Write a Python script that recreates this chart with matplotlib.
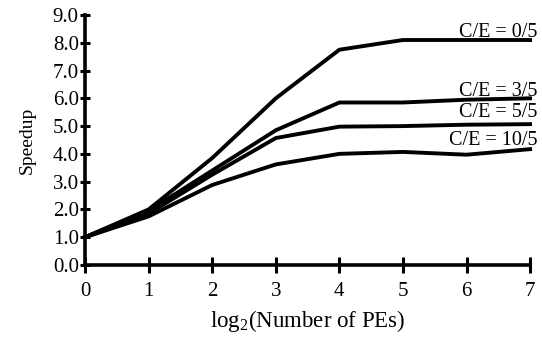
import matplotlib.pyplot as plt
from matplotlib.transforms import offset_copy

plt.rcParams['font.family'] = ['Liberation Serif', 'DejaVu Serif']

# log2 of number of PEs
x = [0, 1, 2, 3, 4, 5, 6, 7]

# speedup for each C/E ratio
ce_0 = [1.0, 2.0, 3.85, 6.0, 7.75, 8.1, 8.1, 8.1]
ce_3 = [1.0, 1.95, 3.4, 4.85, 5.85, 5.85, 5.95, 6.0]
ce_5 = [1.0, 1.85, 3.25, 4.57, 4.98, 5.0, 5.05, 5.07]
ce_10 = [1.0, 1.75, 2.88, 3.62, 4.0, 4.07, 3.97, 4.17]

labels = ['C/E = 0/5', 'C/E = 3/5', 'C/E = 5/5', 'C/E = 10/5']
series = [ce_0, ce_3, ce_5, ce_10]
# vertical gap (points) between line end and label baseline
label_gap = [2, 2, 5.5, 3]

fig = plt.figure(figsize=(5.42, 3.41), dpi=100)
ax = fig.add_axes([0.157, 0.223, 0.821, 0.733])

for ys, lab, gap in zip(series, labels, label_gap):
    ax.plot(x, ys, color='black', lw=2.8, clip_on=False)
    tr = offset_copy(ax.transData, fig=fig, x=5, y=gap, units='points')
    ax.text(7, ys[-1], lab, ha='right', va='baseline', fontsize=14.5, transform=tr)

ax.set_xlim(0, 7)
ax.set_ylim(0, 9)
ax.set_xticks(range(8))
ax.set_yticks([i * 1.0 for i in range(10)])
ax.set_yticklabels(['%.1f' % (i * 1.0) for i in range(10)])

for s in ['top', 'right']:
    ax.spines[s].set_visible(False)
for s in ['left', 'bottom']:
    ax.spines[s].set_linewidth(2.6)

ax.tick_params(axis='x', direction='inout', length=12, width=2.2, labelsize=15, pad=6)
ax.tick_params(axis='y', direction='inout', length=7, width=2.2, labelsize=15, pad=1)

ax.set_xlabel(r'log$_{\mathregular{2}}$(Number of PEs)', fontsize=16.5, labelpad=5)
ax.set_ylabel('Speedup', fontsize=14, labelpad=12)

fig.savefig('out.png', dpi=100)
